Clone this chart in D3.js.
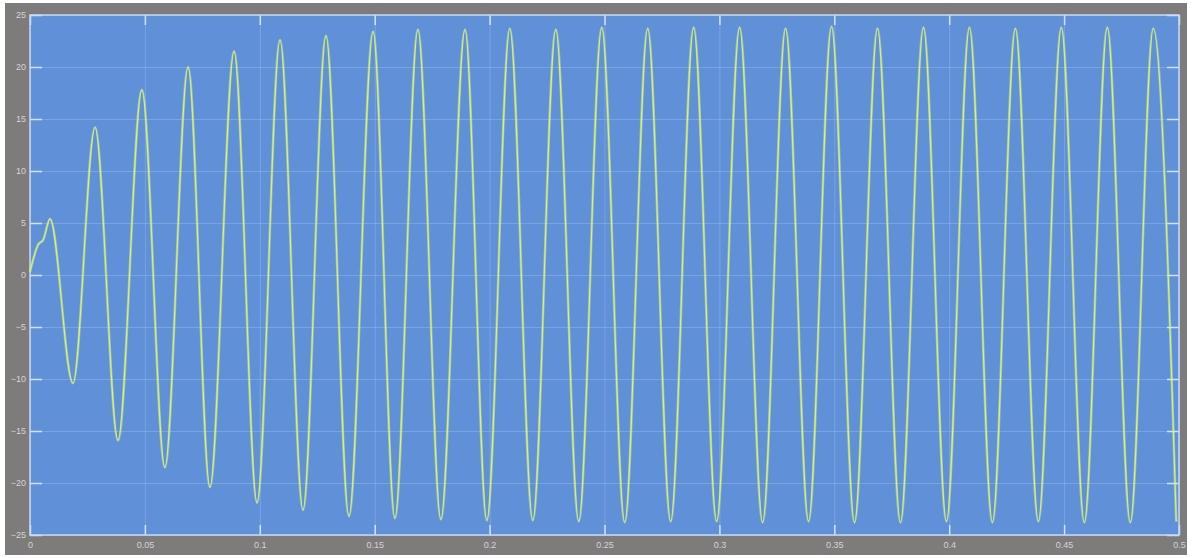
<!DOCTYPE html>
<html>
<head>
<meta charset="utf-8">
<script src="https://cdn.jsdelivr.net/npm/d3@7"></script>
<style>
  body { margin: 0; background: #ffffff; }
  svg { display: block; }
  .lbl text { font-family: "Liberation Sans", "DejaVu Sans", sans-serif; font-size: 9px; fill: #d4d4d4; }
</style>
</head>
<body>
<div id="scope"></div>
<script>
// tick values / labels
var xTicks = [0, 0.05, 0.1, 0.15, 0.2, 0.25, 0.3, 0.35, 0.4, 0.45, 0.5];
var xTickLabels = ["0", "0.05", "0.1", "0.15", "0.2", "0.25", "0.3", "0.35", "0.4", "0.45", "0.5"];
var yTicks = [-25, -20, -15, -10, -5, 0, 5, 10, 15, 20, 25];

// start of the trace (before first peak)
var startTimes  = [0, 0.0035, 0.0058];
var startValues = [0.3, 2.9, 3.4];

// positive peaks
var peakTimes = [0.0087, 0.0283, 0.0487, 0.0688, 0.0888, 0.1088, 0.1288, 0.1493, 0.1688, 0.1893,
                 0.2088, 0.2288, 0.2488, 0.2688, 0.2888, 0.3088, 0.3288, 0.3488, 0.3688, 0.3888,
                 0.4088, 0.4288, 0.4488, 0.4688, 0.4888];
var peakValues = [5.4, 14.2, 17.8, 20.0, 21.5, 22.6, 23.0, 23.4, 23.6, 23.6,
                  23.7, 23.6, 23.8, 23.7, 23.8, 23.8, 23.7, 23.9, 23.7, 23.8,
                  23.8, 23.7, 23.8, 23.8, 23.7];

// negative peaks
var troughTimes = [0.0187, 0.0383, 0.0587, 0.0783, 0.0988, 0.1188, 0.1388, 0.1588, 0.1788, 0.1988,
                   0.2188, 0.2388, 0.2588, 0.2788, 0.2988, 0.3188, 0.3388, 0.3588, 0.3788, 0.3988,
                   0.4188, 0.4388, 0.4588, 0.4788, 0.4988];
var troughValues = [-10.4, -15.9, -18.5, -20.4, -21.9, -22.6, -23.2, -23.4, -23.5, -23.6,
                    -23.6, -23.7, -23.8, -23.7, -23.7, -23.8, -23.7, -23.8, -23.8, -23.7,
                    -23.8, -23.7, -23.8, -23.8, -23.7];

var W = 1198, H = 558;
var margin = {top: 15, right: 19, bottom: 23, left: 30},
    width = W - margin.left - margin.right,
    height = H - margin.top - margin.bottom;

var svg = d3.select("#scope")
  .append("svg")
    .attr("width", W)
    .attr("height", H);

// gray scope frame
svg.append("rect")
    .attr("x", 5).attr("y", 3)
    .attr("width", 1182).attr("height", 552)
    .attr("fill", "#7e7c7b");

var x = d3.scaleLinear().domain([0, 0.5]).range([0, width]);
var y = d3.scaleLinear().domain([-25, 25]).range([height, 0]);

var g = svg.append("g")
    .attr("transform", "translate(" + margin.left + "," + margin.top + ")");

g.append("rect")
    .attr("width", width)
    .attr("height", height)
    .attr("fill", "#5f90d8");

// faint grid
g.append("g")
    .attr("transform", "translate(0," + height + ")")
    .call(d3.axisBottom(x).tickValues(xTicks).tickSize(-height).tickFormat(""))
    .call(function(s) {
      s.select(".domain").remove();
      s.selectAll("line").attr("stroke", "#8fb4ea").attr("stroke-opacity", 0.55);
    });
g.append("g")
    .call(d3.axisLeft(y).tickValues(yTicks).tickSize(-width).tickFormat(""))
    .call(function(s) {
      s.select(".domain").remove();
      s.selectAll("line").attr("stroke", "#8fb4ea").attr("stroke-opacity", 0.55);
    });

// bright edge ticks
function edgeTicks(axis) {
  return function(s) {
    s.call(axis);
    s.select(".domain").remove();
    s.selectAll("line").attr("stroke", "#d2e4fb").attr("stroke-width", 1.5);
  };
}
g.append("g").attr("transform", "translate(0," + height + ")")
    .call(edgeTicks(d3.axisTop(x).tickValues(xTicks).tickSize(10).tickFormat("")));
g.append("g")
    .call(edgeTicks(d3.axisBottom(x).tickValues(xTicks).tickSize(10).tickFormat("")));
g.append("g")
    .call(edgeTicks(d3.axisRight(y).tickValues(yTicks).tickSize(12).tickFormat("")));
g.append("g").attr("transform", "translate(" + width + ",0)")
    .call(edgeTicks(d3.axisLeft(y).tickValues(yTicks).tickSize(12).tickFormat("")));

// plot border
g.append("rect")
    .attr("width", width)
    .attr("height", height)
    .attr("fill", "none")
    .attr("stroke", "#c4d8f4")
    .attr("stroke-width", 1.5);

// tick labels
g.append("g")
    .attr("class", "lbl")
    .attr("transform", "translate(0," + height + ")")
    .call(d3.axisBottom(x).tickValues(xTicks).tickSize(0).tickPadding(7)
      .tickFormat(function(d, i) { return xTickLabels[i]; }))
    .call(function(s) { s.select(".domain").remove(); });
g.append("g")
    .attr("class", "lbl")
    .call(d3.axisLeft(y).tickValues(yTicks).tickSize(0).tickPadding(4))
    .call(function(s) { s.select(".domain").remove(); });

// build the trace from the read points
var pts = [];
startTimes.forEach(function(t, i) { pts.push({t: t, v: startValues[i]}); });
peakTimes.forEach(function(t, i) { pts.push({t: t, v: peakValues[i]}); });
troughTimes.forEach(function(t, i) { pts.push({t: t, v: troughValues[i]}); });
pts.sort(function(a, b) { return a.t - b.t; });

var line = d3.line()
    .curve(d3.curveMonotoneX)
    .x(function(d) { return x(d.t); })
    .y(function(d) { return y(d.v); });

g.append("path")
    .datum(pts)
    .attr("fill", "none")
    .attr("stroke", "#c8ecb0")
    .attr("stroke-opacity", 0.5)
    .attr("stroke-width", 2.6)
    .attr("d", line);

g.append("path")
    .datum(pts)
    .attr("fill", "none")
    .attr("stroke", "#def45a")
    .attr("stroke-width", 1.1)
    .attr("d", line);
</script>
</body>
</html>
